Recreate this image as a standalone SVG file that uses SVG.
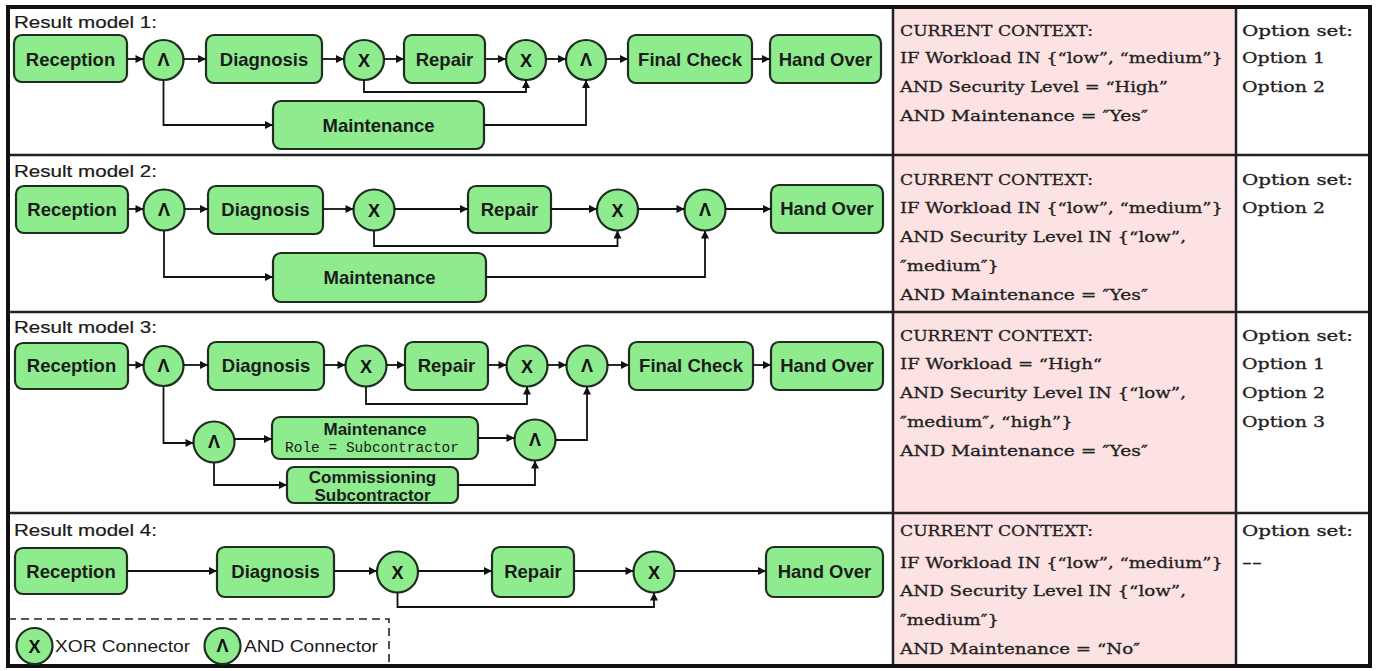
<svg xmlns="http://www.w3.org/2000/svg" width="1376" height="671" viewBox="0 0 1376 671">
  <defs>
    <marker id="arrow" viewBox="0 0 10 10" refX="10" refY="5" markerWidth="9" markerHeight="8" markerUnits="userSpaceOnUse" orient="auto">
      <path d="M0,0 L10,5 L0,10 z" fill="#111"/>
    </marker>
  </defs>
  <style>
    .box{fill:#8eec8e;stroke:#1f2f1f;stroke-width:2.2}
    .gw{fill:#8eec8e;stroke:#1f2f1f;stroke-width:2.2}
    .lbl{font-family:"Liberation Sans",Arial,sans-serif;font-weight:bold;font-size:18.5px;fill:#1c1c1c;text-anchor:middle}
    .lbl2{font-family:"Liberation Sans",Arial,sans-serif;font-weight:bold;font-size:17px;fill:#1c1c1c;text-anchor:middle}
    .mono{font-family:"Liberation Mono","Courier New",monospace;font-size:14.5px;fill:#1c1c1c;text-anchor:middle}
    .sym{font-family:"Liberation Sans",Arial,sans-serif;font-weight:bold;font-size:18px;fill:#111;text-anchor:middle}
    .edge{fill:none;stroke:#111;stroke-width:1.8;marker-end:url(#arrow)}
    .title{font-family:"Liberation Sans",Arial,sans-serif;font-size:16.5px;fill:#1a1a1a;stroke:#1a1a1a;stroke-width:0.2}
    .legend{font-family:"Liberation Sans",Arial,sans-serif;font-size:17px;fill:#1a1a1a}
    .ctx{font-family:"DejaVu Serif",serif;font-size:15px;fill:#222;stroke:#222;stroke-width:0.3}
    .grid{fill:none;stroke:#222;stroke-width:2.5}
  </style>

  <!-- table background and grid -->
  <g id="table">
    <rect x="0" y="0" width="1376" height="671" fill="#ffffff"/>
    <rect x="893" y="7" width="343" height="659" fill="#fde2e3"/>
    <path class="grid" d="M8,155 H1370 M8,312 H1370 M8,513 H1370 M893,7 V666 M1236,7 V666"/>
    <rect x="8" y="7" width="1362" height="659" fill="none" stroke="#111" stroke-width="4"/>
  </g>

  <!-- row titles -->
  <g id="titles">
    <text class="title" x="14" y="28" textLength="143" lengthAdjust="spacingAndGlyphs">Result model 1:</text>
    <text class="title" x="14" y="177" textLength="143" lengthAdjust="spacingAndGlyphs">Result model 2:</text>
    <text class="title" x="14" y="333" textLength="143" lengthAdjust="spacingAndGlyphs">Result model 3:</text>
    <text class="title" x="14" y="536" textLength="143" lengthAdjust="spacingAndGlyphs">Result model 4:</text>
  </g>

  <!-- ===== Result model 1 ===== -->
  <g id="m1-reception"><rect class="box" x="14" y="35" width="113" height="47" rx="8"/><text class="lbl" x="70.5" y="65.5">Reception</text></g>
  <g id="m1-and1"><circle class="gw" cx="163.5" cy="60" r="20"/><text class="sym" x="163.5" y="66">Λ</text></g>
  <g id="m1-diagnosis"><rect class="box" x="206" y="35" width="116" height="48" rx="8"/><text class="lbl" x="264" y="65.5">Diagnosis</text></g>
  <g id="m1-xor1"><circle class="gw" cx="364" cy="60" r="20"/><text class="sym" x="364" y="67">X</text></g>
  <g id="m1-repair"><rect class="box" x="404" y="35" width="81" height="48" rx="8"/><text class="lbl" x="444.5" y="65.5">Repair</text></g>
  <g id="m1-xor2"><circle class="gw" cx="526" cy="60" r="20"/><text class="sym" x="526" y="67">X</text></g>
  <g id="m1-and2"><circle class="gw" cx="586" cy="60" r="20"/><text class="sym" x="586" y="66">Λ</text></g>
  <g id="m1-finalcheck"><rect class="box" x="628" y="35" width="124" height="48" rx="8"/><text class="lbl" x="690" y="65.5">Final Check</text></g>
  <g id="m1-handover"><rect class="box" x="770" y="35" width="111" height="48" rx="8"/><text class="lbl" x="825.5" y="65.5">Hand Over</text></g>
  <g id="m1-maintenance"><rect class="box" x="273" y="101" width="211" height="48" rx="8"/><text class="lbl" x="378.5" y="131.5">Maintenance</text></g>

  <!-- ===== Result model 2 ===== -->
  <g id="m2-reception"><rect class="box" x="16" y="186" width="112" height="47" rx="8"/><text class="lbl" x="72" y="216">Reception</text></g>
  <g id="m2-and1"><circle class="gw" cx="164" cy="210" r="20.5"/><text class="sym" x="164" y="216">Λ</text></g>
  <g id="m2-diagnosis"><rect class="box" x="208" y="186" width="115" height="48" rx="8"/><text class="lbl" x="265.5" y="216">Diagnosis</text></g>
  <g id="m2-xor1"><circle class="gw" cx="374" cy="210" r="20.5"/><text class="sym" x="374" y="217">X</text></g>
  <g id="m2-repair"><rect class="box" x="468" y="186" width="83" height="47" rx="8"/><text class="lbl" x="509.5" y="216">Repair</text></g>
  <g id="m2-xor2"><circle class="gw" cx="617.5" cy="210" r="20.5"/><text class="sym" x="617.5" y="217">X</text></g>
  <g id="m2-and2"><circle class="gw" cx="705" cy="210" r="20.5"/><text class="sym" x="705" y="216">Λ</text></g>
  <g id="m2-handover"><rect class="box" x="771" y="185" width="112" height="48" rx="8"/><text class="lbl" x="827" y="215">Hand Over</text></g>
  <g id="m2-maintenance"><rect class="box" x="273" y="253" width="213" height="49" rx="8"/><text class="lbl" x="379.5" y="284">Maintenance</text></g>

  <!-- ===== Result model 3 ===== -->
  <g id="m3-reception"><rect class="box" x="15" y="343" width="113" height="46" rx="8"/><text class="lbl" x="71.5" y="372">Reception</text></g>
  <g id="m3-and1"><circle class="gw" cx="163.5" cy="366" r="20"/><text class="sym" x="163.5" y="372">Λ</text></g>
  <g id="m3-diagnosis"><rect class="box" x="208" y="342" width="116" height="48" rx="8"/><text class="lbl" x="266" y="372">Diagnosis</text></g>
  <g id="m3-xor1"><circle class="gw" cx="366" cy="366" r="20.5"/><text class="sym" x="366" y="373">X</text></g>
  <g id="m3-repair"><rect class="box" x="405" y="342" width="83" height="48" rx="8"/><text class="lbl" x="446.5" y="372">Repair</text></g>
  <g id="m3-xor2"><circle class="gw" cx="527" cy="366" r="20.5"/><text class="sym" x="527" y="373">X</text></g>
  <g id="m3-and2"><circle class="gw" cx="587" cy="366" r="20.5"/><text class="sym" x="587" y="372">Λ</text></g>
  <g id="m3-finalcheck"><rect class="box" x="629" y="342" width="124" height="48" rx="8"/><text class="lbl" x="691" y="372">Final Check</text></g>
  <g id="m3-handover"><rect class="box" x="771" y="342" width="112" height="48" rx="8"/><text class="lbl" x="827" y="372">Hand Over</text></g>
  <g id="m3-and3"><circle class="gw" cx="214" cy="442" r="20.5"/><text class="sym" x="214" y="448">Λ</text></g>
  <g id="m3-maintenance"><rect class="box" x="272" y="417" width="206" height="42" rx="8"/><text class="lbl2" x="375" y="434.5">Maintenance</text><text class="mono" x="372" y="452">Role = Subcontractor</text></g>
  <g id="m3-commissioning"><rect class="box" x="287" y="467" width="171" height="36" rx="7"/><text class="lbl2" x="372.5" y="483">Commissioning</text><text class="lbl2" x="372.5" y="500.5">Subcontractor</text></g>
  <g id="m3-and4"><circle class="gw" cx="535" cy="440" r="20.5"/><text class="sym" x="535" y="446">Λ</text></g>

  <!-- ===== Result model 4 ===== -->
  <g id="m4-reception"><rect class="box" x="15" y="548" width="112" height="46" rx="8"/><text class="lbl" x="71" y="577.5">Reception</text></g>
  <g id="m4-diagnosis"><rect class="box" x="217" y="547" width="117" height="50" rx="8"/><text class="lbl" x="275.5" y="578">Diagnosis</text></g>
  <g id="m4-xor1"><circle class="gw" cx="397.5" cy="572" r="20.5"/><text class="sym" x="397.5" y="579">X</text></g>
  <g id="m4-repair"><rect class="box" x="492" y="547" width="82" height="50" rx="8"/><text class="lbl" x="533" y="578">Repair</text></g>
  <g id="m4-xor2"><circle class="gw" cx="654" cy="572" r="20.5"/><text class="sym" x="654" y="579">X</text></g>
  <g id="m4-handover"><rect class="box" x="766" y="547" width="117" height="50" rx="8"/><text class="lbl" x="824.5" y="578">Hand Over</text></g>

  <!-- connectors -->
  <g id="connectors">
    <!-- model 1 -->
    <path class="edge" d="M127,59 H143.5"/>
    <path class="edge" d="M183.5,59 H206"/>
    <path class="edge" d="M322,59 H344"/>
    <path class="edge" d="M384,59 H404"/>
    <path class="edge" d="M485,59 H506"/>
    <path class="edge" d="M546,59 H566"/>
    <path class="edge" d="M606,59 H628"/>
    <path class="edge" d="M752,59 H770"/>
    <path class="edge" d="M163.5,80 V125 H273"/>
    <path class="edge" d="M364,80 V92 H526 V80"/>
    <path class="edge" d="M484,125 H586 V80"/>
    <!-- model 2 -->
    <path class="edge" d="M128,209 H143.5"/>
    <path class="edge" d="M184.5,209 H208"/>
    <path class="edge" d="M323,209 H353.5"/>
    <path class="edge" d="M394.5,209 H468"/>
    <path class="edge" d="M551,209 H597"/>
    <path class="edge" d="M638,209 H684.5"/>
    <path class="edge" d="M725.5,209 H771"/>
    <path class="edge" d="M164,230.5 V277 H273"/>
    <path class="edge" d="M374,230.5 V246 H617.5 V230.5"/>
    <path class="edge" d="M486,277 H705 V230.5"/>
    <!-- model 3 -->
    <path class="edge" d="M128,365 H143.5"/>
    <path class="edge" d="M183.5,365 H208"/>
    <path class="edge" d="M324,365 H345.5"/>
    <path class="edge" d="M386.5,365 H405"/>
    <path class="edge" d="M488,365 H506.5"/>
    <path class="edge" d="M547.5,365 H566.5"/>
    <path class="edge" d="M607.5,365 H629"/>
    <path class="edge" d="M753,365 H771"/>
    <path class="edge" d="M366,386.5 V404 H527 V386.5"/>
    <path class="edge" d="M163.5,386 V443 H193.5"/>
    <path class="edge" d="M234.5,439 H272"/>
    <path class="edge" d="M214,462.5 V485 H287"/>
    <path class="edge" d="M478,438 H514.5"/>
    <path class="edge" d="M458,485 H535 V460.5"/>
    <path class="edge" d="M555.5,440 H587 V386.5"/>
    <!-- model 4 -->
    <path class="edge" d="M127,571 H217"/>
    <path class="edge" d="M334,571 H377"/>
    <path class="edge" d="M418,571 H492"/>
    <path class="edge" d="M574,571 H633.5"/>
    <path class="edge" d="M674.5,571 H766"/>
    <path class="edge" d="M397.5,592.5 V607 H654 V592.5"/>
  </g>

  <!-- legend -->
  <g id="legend">
    <path d="M8,619 H389 V666" fill="none" stroke="#222" stroke-width="1.6" stroke-dasharray="8,5"/>
    <circle class="gw" cx="34.5" cy="646" r="18"/><text class="sym" x="34.5" y="653">X</text>
    <text class="legend" x="55" y="652" textLength="135" lengthAdjust="spacingAndGlyphs">XOR Connector</text>
    <circle class="gw" cx="222.5" cy="646" r="18"/><text class="sym" x="222.5" y="652">Λ</text>
    <text class="legend" x="244" y="652" textLength="134" lengthAdjust="spacingAndGlyphs">AND Connector</text>
  </g>

  <!-- context rules -->
  <g id="context-1">
    <text class="ctx" x="900" y="36" textLength="193" lengthAdjust="spacingAndGlyphs">CURRENT CONTEXT:</text>
    <text class="ctx" x="900" y="63" textLength="323" lengthAdjust="spacingAndGlyphs">IF Workload IN {“low”, “medium”}</text>
    <text class="ctx" x="900" y="92" textLength="268" lengthAdjust="spacingAndGlyphs">AND Security Level = “High”</text>
    <text class="ctx" x="900" y="121" textLength="248" lengthAdjust="spacingAndGlyphs">AND Maintenance = ″Yes″</text>
  </g>
  <g id="context-2">
    <text class="ctx" x="900" y="185" textLength="193" lengthAdjust="spacingAndGlyphs">CURRENT CONTEXT:</text>
    <text class="ctx" x="900" y="213" textLength="323" lengthAdjust="spacingAndGlyphs">IF Workload IN {“low”, “medium”}</text>
    <text class="ctx" x="900" y="242" textLength="286" lengthAdjust="spacingAndGlyphs">AND Security Level IN {“low”,</text>
    <text class="ctx" x="900" y="271" textLength="99" lengthAdjust="spacingAndGlyphs">″medium″}</text>
    <text class="ctx" x="900" y="300" textLength="248" lengthAdjust="spacingAndGlyphs">AND Maintenance = ″Yes″</text>
  </g>
  <g id="context-3">
    <text class="ctx" x="900" y="341" textLength="193" lengthAdjust="spacingAndGlyphs">CURRENT CONTEXT:</text>
    <text class="ctx" x="900" y="369" textLength="202" lengthAdjust="spacingAndGlyphs">IF Workload = “High“</text>
    <text class="ctx" x="900" y="398" textLength="286" lengthAdjust="spacingAndGlyphs">AND Security Level IN {“low”,</text>
    <text class="ctx" x="900" y="427" textLength="173" lengthAdjust="spacingAndGlyphs">″medium″, “high”}</text>
    <text class="ctx" x="900" y="456" textLength="248" lengthAdjust="spacingAndGlyphs">AND Maintenance = ″Yes″</text>
  </g>
  <g id="context-4">
    <text class="ctx" x="900" y="536" textLength="193" lengthAdjust="spacingAndGlyphs">CURRENT CONTEXT:</text>
    <text class="ctx" x="900" y="568" textLength="323" lengthAdjust="spacingAndGlyphs">IF Workload IN {“low”, “medium”}</text>
    <text class="ctx" x="900" y="596" textLength="286" lengthAdjust="spacingAndGlyphs">AND Security Level IN {“low”,</text>
    <text class="ctx" x="900" y="625" textLength="99" lengthAdjust="spacingAndGlyphs">″medium″}</text>
    <text class="ctx" x="900" y="654" textLength="240" lengthAdjust="spacingAndGlyphs">AND Maintenance = “No″</text>
  </g>

  <!-- option sets -->
  <g id="options-1">
    <text class="ctx" x="1242" y="36" textLength="111" lengthAdjust="spacingAndGlyphs">Option set:</text>
    <text class="ctx" x="1242" y="63" textLength="83" lengthAdjust="spacingAndGlyphs">Option 1</text>
    <text class="ctx" x="1242" y="92" textLength="83" lengthAdjust="spacingAndGlyphs">Option 2</text>
  </g>
  <g id="options-2">
    <text class="ctx" x="1242" y="185" textLength="111" lengthAdjust="spacingAndGlyphs">Option set:</text>
    <text class="ctx" x="1242" y="213" textLength="83" lengthAdjust="spacingAndGlyphs">Option 2</text>
  </g>
  <g id="options-3">
    <text class="ctx" x="1242" y="341" textLength="111" lengthAdjust="spacingAndGlyphs">Option set:</text>
    <text class="ctx" x="1242" y="369" textLength="83" lengthAdjust="spacingAndGlyphs">Option 1</text>
    <text class="ctx" x="1242" y="398" textLength="83" lengthAdjust="spacingAndGlyphs">Option 2</text>
    <text class="ctx" x="1242" y="427" textLength="83" lengthAdjust="spacingAndGlyphs">Option 3</text>
  </g>
  <g id="options-4">
    <text class="ctx" x="1242" y="536" textLength="111" lengthAdjust="spacingAndGlyphs">Option set:</text>
    <text class="ctx" x="1242" y="568" textLength="20" lengthAdjust="spacingAndGlyphs">--</text>
  </g>
</svg>
